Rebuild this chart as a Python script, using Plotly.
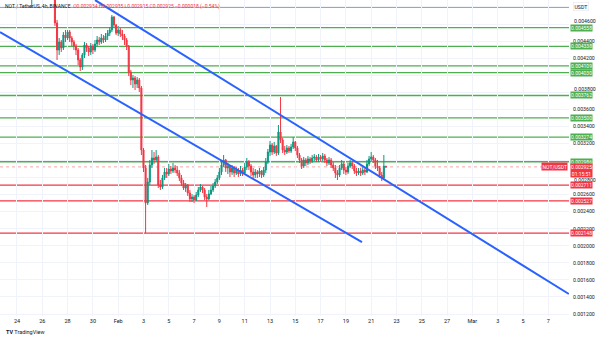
import pandas as pd
import plotly.graph_objects as go

# ---------------- data (4h candles, NOT/USDT, Binance) ----------------
first_open = 0.00517
close = [
    0.00520, 0.00524, 0.00522, 0.00518, 0.00525, 0.00521,            # Jan 25
    0.00523, 0.00518, 0.00512, 0.00508, 0.00505, 0.00500,            # Jan 26
    0.004612, 0.004295, 0.004389, 0.004319, 0.004471, 0.004436,      # Jan 27
    0.004506, 0.004436, 0.004389, 0.004342, 0.004295, 0.004178,      # Jan 28
    0.004096, 0.004237, 0.004354, 0.004319, 0.004272, 0.004342,      # Jan 29
    0.004295, 0.004366, 0.004412, 0.004389, 0.004436, 0.004412,      # Jan 30
    0.004459, 0.004494, 0.004530, 0.004682, 0.004588, 0.004494,      # Jan 31
    0.004530, 0.004483, 0.004459, 0.004412, 0.004342, 0.004037,      # Feb 1
    0.003944, 0.003967, 0.003897, 0.003944, 0.003850, 0.003123,      # Feb 2
    0.002912, 0.002502, 0.002748, 0.002947, 0.003029, 0.003006,      # Feb 3
    0.003041, 0.002713, 0.002689, 0.002795, 0.002865, 0.002842,      # Feb 4
    0.002900, 0.002877, 0.002912, 0.002888, 0.002853, 0.002795,      # Feb 5
    0.002736, 0.002677, 0.002713, 0.002619, 0.002549, 0.002572,      # Feb 6
    0.002537, 0.002595, 0.002654, 0.002689, 0.002654, 0.002572,      # Feb 7
    0.002549, 0.002607, 0.002654, 0.002701, 0.002748, 0.002795,      # Feb 8
    0.002865, 0.002947, 0.003006, 0.002912, 0.002935, 0.002865,      # Feb 9
    0.002912, 0.002853, 0.002888, 0.002842, 0.002888, 0.002853,      # Feb 10
    0.002924, 0.002982, 0.002935, 0.002865, 0.002830, 0.002865,      # Feb 11
    0.002842, 0.002877, 0.002830, 0.002888, 0.002982, 0.003099,      # Feb 12
    0.003182, 0.003099, 0.003170, 0.003088, 0.003334, 0.003240,      # Feb 13
    0.003123, 0.003099, 0.003146, 0.003111, 0.003158, 0.003217,      # Feb 14
    0.003146, 0.003064, 0.003006, 0.002935, 0.003006, 0.002971,      # Feb 15
    0.003018, 0.002994, 0.003029, 0.003041, 0.003006, 0.003041,      # Feb 16
    0.003018, 0.003053, 0.003006, 0.002971, 0.003006, 0.002947,      # Feb 17
    0.002912, 0.002853, 0.002830, 0.002912, 0.002959, 0.002888,      # Feb 18
    0.002865, 0.002935, 0.002971, 0.002935, 0.002877, 0.002853,      # Feb 19
    0.002877, 0.002853, 0.002888, 0.002865, 0.002959, 0.003018,      # Feb 20
    0.003041, 0.003006, 0.002935, 0.002912, 0.002830, 0.002795,      # Feb 21
    0.002934, 0.002925,                                              # Feb 22
]
high = [
    0.00526, 0.00527, 0.00528, 0.00526, 0.00531, 0.00529,
    0.00528, 0.00526, 0.00520, 0.00515, 0.00511, 0.00508,
    0.00502, 0.004647, 0.004436, 0.004412, 0.004506, 0.004530,
    0.004530, 0.004530, 0.004459, 0.004412, 0.004366, 0.004319,
    0.004201, 0.004260, 0.004389, 0.004377, 0.004342, 0.004377,
    0.004366, 0.004412, 0.004459, 0.004448, 0.004483, 0.004471,
    0.004494, 0.004530, 0.004565, 0.004706, 0.004694, 0.004600,
    0.004577, 0.004553, 0.004530, 0.004483, 0.004436, 0.004354,
    0.004061, 0.004002, 0.003990, 0.003979, 0.003967, 0.003873,
    0.003146, 0.002947, 0.002795, 0.003006, 0.003123, 0.003099,
    0.003123, 0.003064, 0.002771, 0.002830, 0.002912, 0.002912,
    0.002959, 0.002935, 0.002971, 0.002947, 0.002935, 0.002888,
    0.002830, 0.002771, 0.002736, 0.002724, 0.002654, 0.002607,
    0.002595, 0.002631, 0.002689, 0.002724, 0.002701, 0.002677,
    0.002607, 0.002654, 0.002701, 0.002736, 0.002783, 0.002830,
    0.002912, 0.003006, 0.003064, 0.003018, 0.002971, 0.002947,
    0.002947, 0.002935, 0.002924, 0.002912, 0.002935, 0.002912,
    0.002971, 0.003029, 0.003006, 0.002959, 0.002912, 0.002900,
    0.002888, 0.002912, 0.002888, 0.002924, 0.003029, 0.003135,
    0.003228, 0.003205, 0.003217, 0.003182, 0.003416, 0.003744,
    0.003264, 0.003170, 0.003182, 0.003170, 0.003193, 0.003275,
    0.003228, 0.003170, 0.003088, 0.003029, 0.003041, 0.003029,
    0.003053, 0.003041, 0.003064, 0.003076, 0.003064, 0.003076,
    0.003064, 0.003088, 0.003076, 0.003029, 0.003041, 0.003029,
    0.002982, 0.002947, 0.002888, 0.002947, 0.003006, 0.002982,
    0.002924, 0.002971, 0.003006, 0.002994, 0.002959, 0.002912,
    0.002912, 0.002912, 0.002924, 0.002912, 0.003006, 0.003053,
    0.003099, 0.003064, 0.003029, 0.003006, 0.002935, 0.002865,
    0.003064, 0.002935,
]
low = [
    0.00512, 0.00479, 0.00514, 0.00513, 0.00516, 0.00516,
    0.00515, 0.00512, 0.00506, 0.00502, 0.00498, 0.00493,
    0.004577, 0.004178, 0.004237, 0.004272, 0.004295, 0.004389,
    0.004412, 0.004389, 0.004342, 0.004295, 0.004237, 0.004119,
    0.004049, 0.004061, 0.004201, 0.004272, 0.004225, 0.004237,
    0.004248, 0.004272, 0.004330, 0.004354, 0.004366, 0.004377,
    0.004389, 0.004412, 0.004459, 0.004506, 0.004553, 0.004471,
    0.004459, 0.004448, 0.004412, 0.004354, 0.004295, 0.003990,
    0.003885, 0.003850, 0.003826, 0.003850, 0.003803, 0.003064,
    0.002865, 0.002150, 0.002478, 0.002713, 0.002912, 0.002959,
    0.002982, 0.002677, 0.002654, 0.002666, 0.002771, 0.002795,
    0.002818, 0.002842, 0.002853, 0.002853, 0.002818, 0.002759,
    0.002701, 0.002654, 0.002631, 0.002584, 0.002513, 0.002513,
    0.002502, 0.002525, 0.002572, 0.002631, 0.002619, 0.002537,
    0.002455, 0.002537, 0.002595, 0.002631, 0.002677, 0.002724,
    0.002771, 0.002830, 0.002924, 0.002865, 0.002842, 0.002806,
    0.002830, 0.002806, 0.002830, 0.002806, 0.002818, 0.002818,
    0.002830, 0.002888, 0.002888, 0.002818, 0.002783, 0.002795,
    0.002795, 0.002806, 0.002795, 0.002806, 0.002853, 0.002959,
    0.003053, 0.003064, 0.003076, 0.003053, 0.003064, 0.003205,
    0.003088, 0.003064, 0.003076, 0.003088, 0.003088, 0.003135,
    0.003111, 0.003029, 0.002971, 0.002900, 0.002912, 0.002935,
    0.002947, 0.002959, 0.002971, 0.002994, 0.002982, 0.002982,
    0.002982, 0.002994, 0.002971, 0.002935, 0.002947, 0.002912,
    0.002877, 0.002795, 0.002771, 0.002806, 0.002888, 0.002842,
    0.002830, 0.002842, 0.002912, 0.002900, 0.002842, 0.002818,
    0.002830, 0.002818, 0.002830, 0.002830, 0.002853, 0.002935,
    0.002982, 0.002971, 0.002900, 0.002877, 0.002795, 0.002759,
    0.002771, 0.002915,
]
start_time = "2025-01-25 00:00"

green_levels = [0.004800, 0.004558, 0.004338, 0.004109, 0.004030,
                0.003762, 0.003500, 0.003274, 0.002986]
green_labels = ["", "0.004558", "0.004338", "0.004109", "0.004030",
                "0.003762", "0.003500", "0.003274", "0.002986"]
red_levels = [0.002711, 0.002527, 0.002148]
red_labels = ["0.002711", "0.002527", "0.002148"]
last_price = 0.002925

upper_channel_x = ["2025-01-30 04:00", "2025-03-08 15:00"]
upper_channel_y = [0.004881, 0.001435]
lower_channel_x = ["2025-01-22 15:46", "2025-02-20 06:30"]
lower_channel_y = [0.004506, 0.002044]

price_ticks = [0.0012, 0.0014, 0.0016, 0.0018, 0.0020, 0.0022, 0.0024, 0.0026,
               0.0028, 0.0030, 0.0032, 0.0034, 0.0036, 0.0038, 0.0040, 0.0042,
               0.0044, 0.0046, 0.0048]
price_tick_labels = ["0.001200", "0.001400", "0.001600", "0.001800", "0.002000",
                     "0.002200", "0.002400", "0.002600", "0.002800", "",
                     "0.003200", "0.003400", "0.003600", "0.003800", "",
                     "0.004200", "0.004400", "0.004600", ""]
# tick labels that sit tight against a highlighted level label: drawn nudged
nudged_ticks = {0.0046: 3, 0.0038: 3, 0.0028: -2}
date_ticks = ["2025-01-24", "2025-01-26", "2025-01-28", "2025-01-30", "2025-02-01",
              "2025-02-03", "2025-02-05", "2025-02-07", "2025-02-09", "2025-02-11",
              "2025-02-13", "2025-02-15", "2025-02-17", "2025-02-19", "2025-02-21",
              "2025-02-23", "2025-02-25", "2025-02-27", "2025-03-01", "2025-03-03",
              "2025-03-05", "2025-03-07"]
date_tick_labels = ["24", "26", "28", "30", "Feb", "3", "5", "7", "9", "11", "13",
                    "15", "17", "19", "21", "23", "25", "27", "Mar", "3", "5", "7"]

# ---------------- figure ----------------
times = pd.date_range(start=start_time, periods=len(close), freq="4h")
opens = [first_open] + close[:-1]

UP, DOWN = "#089981", "#f23645"
GREEN_LINE, RED_LINE, BLUE = "#4caf50", "#f23645", "#2962ff"
FONT = "Roboto"
BOX_FONT = 5
TICK_FONT = 5.2

fig = go.Figure()
fig.add_trace(go.Candlestick(
    x=times, open=opens, high=high, low=low, close=close,
    increasing=dict(line=dict(color=UP, width=1), fillcolor=UP),
    decreasing=dict(line=dict(color=DOWN, width=1), fillcolor=DOWN),
    whiskerwidth=0, hoverinfo="skip"))

fig.add_trace(go.Scatter(x=upper_channel_x, y=upper_channel_y, mode="lines",
                         line=dict(color=BLUE, width=2), hoverinfo="skip"))
fig.add_trace(go.Scatter(x=lower_channel_x, y=lower_channel_y, mode="lines",
                         line=dict(color=BLUE, width=2), hoverinfo="skip"))

shapes = []
for lv in green_levels:
    shapes.append(dict(type="line", xref="paper", x0=0, x1=1, yref="y", y0=lv, y1=lv,
                       line=dict(color=GREEN_LINE, width=1.4), layer="below"))
for lv in red_levels:
    shapes.append(dict(type="line", xref="paper", x0=0, x1=1, yref="y", y0=lv, y1=lv,
                       line=dict(color=RED_LINE, width=1.4), layer="below"))
shapes.append(dict(type="line", xref="paper", x0=0, x1=1, yref="y", y0=last_price, y1=last_price,
                   line=dict(color="#f7a5ab", width=1, dash="dot"), layer="below"))

axis_labels = []
for v, lab in zip(price_ticks, price_tick_labels):
    if any(abs(v - k) < 1e-9 for k in nudged_ticks):
        axis_labels.append("")
    else:
        axis_labels.append(lab)

annotations = []
for v, lab in zip(price_ticks, price_tick_labels):
    for k, shift in nudged_ticks.items():
        if abs(v - k) < 1e-9:
            annotations.append(dict(xref="paper", x=1, xanchor="left", xshift=3, yref="y", y=v,
                                    yshift=shift, text=lab, showarrow=False,
                                    font=dict(family=FONT, size=TICK_FONT, color="#131722")))
for lv, lab in zip(green_levels, green_labels):
    if lab:
        annotations.append(dict(xref="paper", x=1, xanchor="left", xshift=1, yref="y", y=lv,
                                text=lab, showarrow=False, bgcolor=GREEN_LINE, borderpad=0,
                                font=dict(family=FONT, size=BOX_FONT, color="white")))
for lv, lab in zip(red_levels, red_labels):
    annotations.append(dict(xref="paper", x=1, xanchor="left", xshift=1, yref="y", y=lv,
                            text=lab, showarrow=False, bgcolor=RED_LINE, borderpad=0,
                            font=dict(family=FONT, size=BOX_FONT, color="white")))
annotations.append(dict(xref="paper", x=1, xanchor="left", xshift=1, yref="y", y=last_price,
                        yanchor="top", yshift=4,
                        text=f"{last_price:.6f}<br>01:15:51", showarrow=False, bgcolor=RED_LINE,
                        borderpad=0, align="center",
                        font=dict(family=FONT, size=BOX_FONT, color="white")))
annotations.append(dict(xref="paper", x=1, xanchor="right", xshift=-1, yref="y", y=last_price,
                        text="NOT/USDT", showarrow=False, bgcolor=RED_LINE, borderpad=0.5,
                        font=dict(family=FONT, size=BOX_FONT, color="white")))
annotations.append(dict(xref="paper", x=1, xanchor="left", xshift=4, yref="paper", y=1,
                        yanchor="top", yshift=-2, text="USDT", showarrow=False,
                        bgcolor="white", bordercolor="#e0e3eb", borderwidth=0.5, borderpad=1,
                        font=dict(family=FONT, size=5.2, color="#131722")))
annotations.append(dict(xref="paper", x=0, xanchor="left", xshift=3, yref="paper", y=1,
                        yanchor="top", yshift=-1, showarrow=False,
                        text=("NOT / TetherUS, 4h, BINANCE  "
                              "<span style='color:#f23645'>O0.002934 H0.002935 L0.002915 "
                              "C0.002925 −0.000018 (−0.54%)</span>"),
                        font=dict(family=FONT, size=5, color="#131722")))
annotations.append(dict(xref="paper", x=0, xanchor="left", xshift=4, yref="paper", y=0,
                        yanchor="top", yshift=-11, showarrow=False,
                        text="<b>TV</b> TradingView",
                        font=dict(family=FONT, size=5.5, color="#131722")))

fig.update_layout(
    width=600, height=338,
    margin=dict(l=0, r=31, t=0, b=22),
    paper_bgcolor="white", plot_bgcolor="white",
    showlegend=False, shapes=shapes, annotations=annotations,
    font=dict(family=FONT, size=5.2, color="#131722"),
    xaxis=dict(type="date", range=["2025-01-22 15:46", "2025-03-08 15:16"],
               rangeslider=dict(visible=False),
               tickvals=date_ticks, ticktext=date_tick_labels,
               tickfont=dict(family=FONT, size=5.5, color="#131722"),
               showgrid=True, gridcolor="#f0f3fa", gridwidth=1,
               zeroline=False, ticks="", showline=False),
    yaxis=dict(side="right", range=[0.0011768, 0.0048814],
               tickvals=price_ticks, ticktext=axis_labels,
               tickfont=dict(family=FONT, size=TICK_FONT, color="#131722"),
               showgrid=True, gridcolor="#f0f3fa", gridwidth=1,
               zeroline=False, ticks="", showline=False, ticklabelstandoff=3),
)

fig.write_html("out.html")
